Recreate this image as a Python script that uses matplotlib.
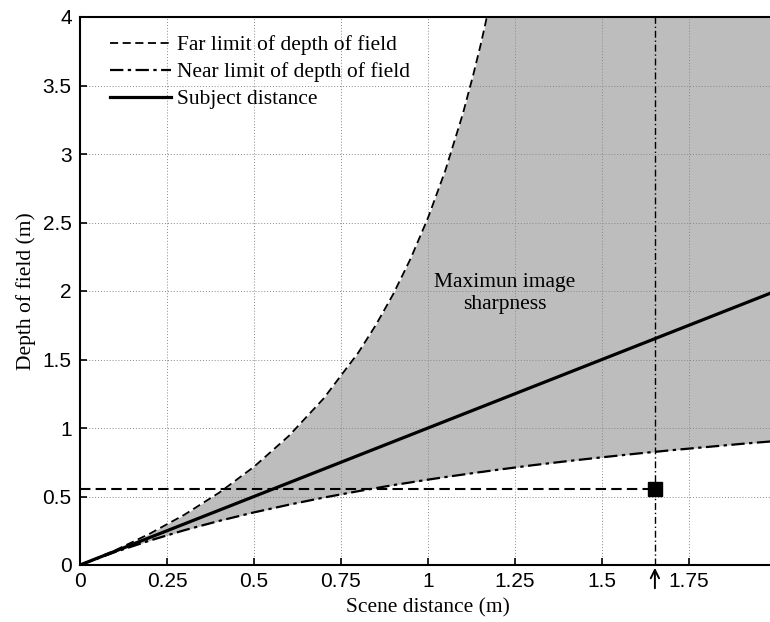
import numpy as np
import matplotlib
matplotlib.use("Agg")
import matplotlib.pyplot as plt

# ---- data ----
distance = [0, 0.1, 0.2, 0.3, 0.4, 0.5, 0.6, 0.7, 0.8, 0.85, 0.9, 0.95, 1.0,
            1.05, 1.1, 1.13, 1.15, 1.16, 1.17, 1.18, 1.2, 1.3, 1.4, 1.5, 1.6,
            1.7, 1.8, 1.9, 2.0]
far_limit = [0, 0.106, 0.228, 0.367, 0.528, 0.717, 0.942, 1.215, 1.551, 1.751,
             1.977, 2.236, 2.534, 2.881, 3.292, 3.578, 3.784, 3.895, 4.010,
             4.130, 4.386, 6.10, 9.18, 16.3, 50.8, np.inf, np.inf, np.inf, np.inf]
near_limit = [0, 0.094, 0.178, 0.254, 0.322, 0.384, 0.440, 0.492, 0.539, 0.561,
              0.583, 0.603, 0.623, 0.642, 0.660, 0.671, 0.678, 0.681, 0.685,
              0.688, 0.695, 0.728, 0.758, 0.786, 0.813, 0.838, 0.861, 0.884,
              0.905]
subject = distance
hyperfocal = 1.652
marker_y = 0.558

xticks = [0, 0.25, 0.5, 0.75, 1, 1.25, 1.5, 1.75, 2]
xticklabels = ["0", "0.25", "0.5", "0.75", "1", "1.25", "1.5", "1.75", "2"]
yticks = [0, 0.5, 1, 1.5, 2, 2.5, 3, 3.5, 4]
yticklabels = ["0", "0.5", "1", "1.5", "2", "2.5", "3", "3.5", "4"]

serif = ["Liberation Serif", "DejaVu Serif"]
sans = ["Liberation Sans", "DejaVu Sans"]

fig = plt.figure(figsize=(7.70, 6.22), dpi=100)
ax = fig.add_axes([80/770, 57/622, 696/770, 548/622])
ax.set_xlim(0, 2)
ax.set_ylim(0, 4)

x = np.array(distance)
far = np.array(far_limit)
near = np.array(near_limit)
far_clip = np.minimum(far, ax.get_ylim()[1])

ax.fill_between(x, near, far_clip, color="#bdbdbd", linewidth=0, zorder=1)

ax.plot(x, far, color="black", lw=1.3, ls=(0, (4.5, 2.5)), zorder=3,
        label="Far limit of depth of field")
ax.plot(x, near, color="black", lw=1.6, ls=(0, (6, 2, 1.5, 2)), zorder=3,
        label="Near limit of depth of field")
ax.plot(x, subject, color="black", lw=2.3, zorder=4, label="Subject distance")

ax.plot([0, hyperfocal], [marker_y, marker_y], color="black", lw=1.5,
        ls=(0, (5, 2.5)), zorder=3)
ax.axvline(hyperfocal, color="black", lw=1.0, ls=(0, (5, 2, 1, 2)), zorder=3)
ax.plot([hyperfocal], [marker_y], marker="s", color="black", ms=10, zorder=5)

ax.annotate("", xy=(hyperfocal, 0), xytext=(hyperfocal, -0.19),
            arrowprops=dict(arrowstyle="->", color="black", lw=1.4,
                            mutation_scale=15),
            annotation_clip=False)

ax.text(1.22, 1.98, "Maximun image\nsharpness", ha="center", va="center",
        fontsize=15.5, family=serif, linespacing=1.2, zorder=6)

ax.set_xticks(xticks)
ax.set_xticklabels(xticklabels, family=sans, fontsize=15)
ax.set_yticks(yticks)
ax.set_yticklabels(yticklabels, family=sans, fontsize=15)
ax.tick_params(direction="in", length=5, width=1.2)
ax.tick_params(axis="x", pad=5)
ax.tick_params(axis="y", pad=6)
ax.grid(True, color="#888888", ls=(0, (1, 2)), lw=0.7, zorder=2)
ax.set_axisbelow(False)
for sp in ax.spines.values():
    sp.set_linewidth(1.5)
    sp.set_zorder(6)

ax.set_xlabel("Scene distance (m)", family=serif, fontsize=15.5, labelpad=5)
ax.set_ylabel("Depth of field (m)", family=serif, fontsize=15.5, labelpad=5)

leg = ax.legend(loc="upper left", bbox_to_anchor=(0.025, 0.99), frameon=False,
                prop={"family": serif, "size": 15.5}, handlelength=2.8,
                handletextpad=0.3, labelspacing=0.32, borderaxespad=0.2)

fig.savefig("out.png", dpi=100)
